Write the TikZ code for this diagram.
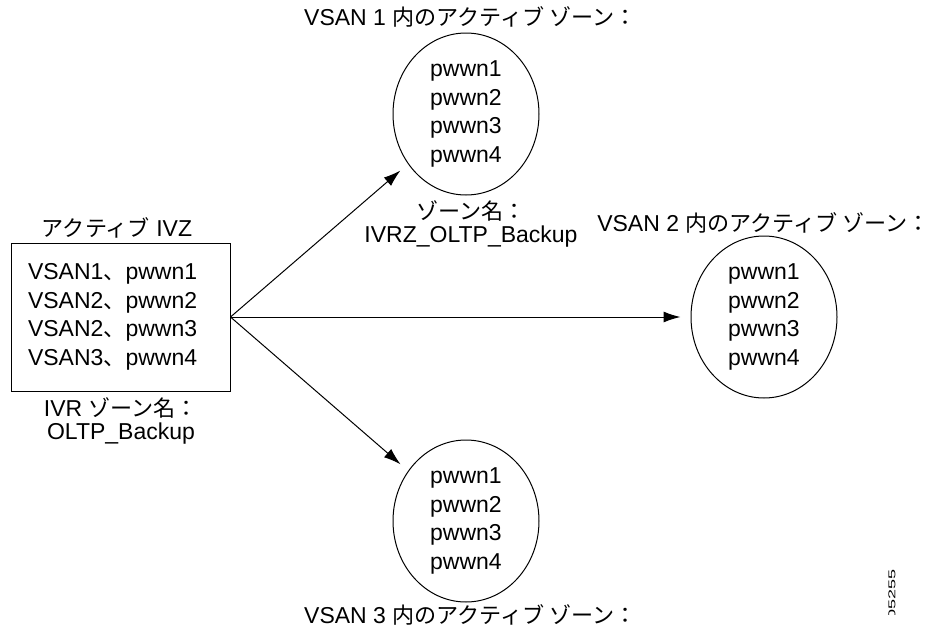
\documentclass[tikz,border=0pt]{standalone}
\usepackage{fontspec}
\setmainfont{Liberation Sans}
\newfontfamily\jp[Scale=0.96]{Noto Sans CJK JP}
\usetikzlibrary{arrows.meta,shapes.geometric}
\begin{document}
\begin{tikzpicture}[x=1pt,y=-1pt,
  font=\fontsize{23}{28.5}\selectfont,
  zone/.style={draw, ellipse, line width=1pt, minimum width=146pt, minimum height=162pt, inner sep=0pt, align=center},
  ivzbox/.style={draw, rectangle, line width=1pt, minimum height=148pt, inner xsep=17pt, inner ysep=0pt, text width=185pt, align=left},
  lbl/.style={inner sep=0pt, align=center, font=\fontsize{23}{23}\selectfont},
  conn/.style={-{Latex[length=17pt,width=11pt]}, line width=1pt, shorten >=10pt}]
\useasboundingbox (0,0) rectangle (930,629);

\node[ivzbox] (box) at (120.5,317) {VSAN1{\jp 、}pwwn1\\VSAN2{\jp 、}pwwn2\\VSAN2{\jp 、}pwwn3\\VSAN3{\jp 、}pwwn4};
\node[lbl] (boxtitle) at (117,228) {{\jp アクティブ} IVZ};
\node[lbl] (boxname) at (121,421) {IVR {\jp ゾーン名：}\\OLTP\_Backup};

\node[zone] (e1) at (466,114) {pwwn1\\pwwn2\\pwwn3\\pwwn4};
\node[zone] (e2) at (764,317) {pwwn1\\pwwn2\\pwwn3\\pwwn4};
\node[zone] (e3) at (466,521) {pwwn1\\pwwn2\\pwwn3\\pwwn4};

\node[lbl, anchor=west] (t1) at (304,17) {VSAN 1 {\jp 内のアクティブ ゾーン：}};
\node[lbl, anchor=east] (t2) at (930,223) {VSAN 2 {\jp 内のアクティブ ゾーン：}};
\node[lbl, anchor=west] (t3) at (304,615) {VSAN 3 {\jp 内のアクティブ ゾーン：}};
\node[lbl] (e1name) at (471,224) {{\jp ゾーン名：}\\IVRZ\_OLTP\_Backup};

\draw[conn] (box.east) -- (e1);
\draw[conn] (box.east) -- (e2);
\draw[conn] (box.east) -- (e3);

\begin{scope}
\clip (870,560) rectangle (930,614);
\node[inner sep=0pt, rotate=90, font=\fontsize{18}{18}\selectfont] (fig) at (892,594.5) {\scalebox{1}[0.55]{05255}};
\end{scope}
\end{tikzpicture}
\end{document}
